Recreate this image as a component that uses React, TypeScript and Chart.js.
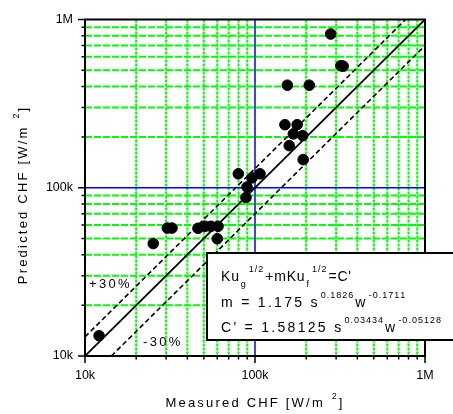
import React, { useEffect, useRef } from "react";
import { Chart, registerables } from "chart.js";

Chart.register(...registerables);

// ---- data ----
const measured = [
  12100, 25200, 30500, 32500, 46200, 50800, 55100, 60600, 60000,
  79800, 96000, 107000, 89700, 88500,
  278800, 320000, 330000, 155000, 208600, 150000, 177000, 168000, 190800, 159000, 192000,
];
const predicted = [
  13200, 46600, 57600, 57600, 57400, 59000, 59000, 59000, 49800,
  121000, 114500, 121000, 101000, 87400,
  820000, 531000, 528000, 407000, 407000, 237000, 237000, 209000, 204000, 178000, 147000,
];
const idealX = [1e4, 1e6];
const idealY = [1e4, 1e6];
const plusX = [1e4, 1e6 / 1.3];
const plusY = [1.3e4, 1e6];
const minusX = [1e4 / 0.7, 1e6];
const minusY = [1e4, 7e5];
const tickValues = [
  1e4, 2e4, 3e4, 4e4, 5e4, 6e4, 7e4, 8e4, 9e4,
  1e5, 2e5, 3e5, 4e5, 5e5, 6e5, 7e5, 8e5, 9e5, 1e6,
];
const majorValues = [1e4, 1e5, 1e6];
const majorLabels = ["10k", "100k", "1M"];

const FONT = '"Liberation Sans", Arial, sans-serif';

type Seg = { t: string; k: "n" | "sup" | "sub" };

function drawSpaced(ctx: CanvasRenderingContext2D, text: string, x: number, y: number, size: number, ls: number) {
  ctx.font = `${size}px ${FONT}`;
  for (const ch of text) {
    ctx.fillText(ch, x, y);
    x += ctx.measureText(ch).width + ls;
  }
  return x;
}
function measureSpaced(ctx: CanvasRenderingContext2D, text: string, size: number, ls: number) {
  ctx.font = `${size}px ${FONT}`;
  let w = 0;
  for (const ch of text) w += ctx.measureText(ch).width + ls;
  return w - ls;
}
function drawRich(ctx: CanvasRenderingContext2D, segs: Seg[], x: number, y: number, size: number, ls: number) {
  for (const s of segs) {
    if (s.k === "n") {
      x = drawSpaced(ctx, s.t, x, y, size, ls);
    } else {
      const dy = s.k === "sup" ? -size * 0.62 : size * 0.4;
      x = drawSpaced(ctx, s.t, x + 1, y + dy, 9, 1) + 1;
    }
  }
  return x;
}
function measureRich(ctx: CanvasRenderingContext2D, segs: Seg[], size: number, ls: number) {
  let w = 0;
  for (const s of segs) {
    if (s.k === "n") w += measureSpaced(ctx, s.t, size, ls) + ls;
    else w += measureSpaced(ctx, s.t, 9, 1) + 3;
  }
  return w;
}

const legendLines: Seg[][] = [
  [
    { t: "Ku", k: "n" }, { t: "g", k: "sub" }, { t: "1/2", k: "sup" },
    { t: "+mKu", k: "n" }, { t: "f", k: "sub" }, { t: "1/2", k: "sup" },
    { t: "=C'", k: "n" },
  ],
  [
    { t: "m = 1.175 s", k: "n" }, { t: "0.1826", k: "sup" },
    { t: "w", k: "n" }, { t: "-0.1711", k: "sup" },
  ],
  [
    { t: "C' = 1.58125 s", k: "n" }, { t: "0.03434", k: "sup" },
    { t: "w", k: "n" }, { t: "-0.05128", k: "sup" },
  ],
];
const legendSpacing = [0.8, 2.3, 2.3];

const decorPlugin = {
  id: "decor",
  beforeDatasetsDraw(chart: any) {
    const { ctx, chartArea: a, scales } = chart;
    const xs = scales.x, ys = scales.y;
    ctx.save();
    ctx.beginPath();
    ctx.rect(a.left, a.top, a.right - a.left, a.bottom - a.top);
    ctx.clip();
    for (const v of tickValues) {
      if (majorValues.includes(v)) continue;
      const px = xs.getPixelForValue(v);
      ctx.strokeStyle = "#00ff00";
      ctx.lineWidth = 2;
      ctx.setLineDash([3, 1]);
      ctx.beginPath();
      ctx.moveTo(px, a.top);
      ctx.lineTo(px, a.bottom);
      ctx.stroke();
      const py = ys.getPixelForValue(v);
      ctx.setLineDash([7, 2]);
      ctx.beginPath();
      ctx.moveTo(a.left, py);
      ctx.lineTo(a.right, py);
      ctx.stroke();
    }
    ctx.setLineDash([]);
    ctx.strokeStyle = "#0000ff";
    ctx.lineWidth = 1.5;
    const bx = xs.getPixelForValue(1e5);
    const by = ys.getPixelForValue(1e5);
    ctx.beginPath();
    ctx.moveTo(bx, a.top);
    ctx.lineTo(bx, a.bottom);
    ctx.moveTo(a.left, by);
    ctx.lineTo(a.right, by);
    ctx.stroke();
    ctx.restore();
  },
  afterDatasetsDraw(chart: any) {
    const { ctx, chartArea: a, scales } = chart;
    const xs = scales.x, ys = scales.y;
    ctx.save();
    ctx.setLineDash([]);
    ctx.strokeStyle = "#000";
    ctx.lineWidth = 2;
    ctx.strokeRect(a.left, a.top, a.right - a.left, a.bottom - a.top);
    ctx.lineWidth = 1.5;
    ctx.beginPath();
    for (const v of tickValues) {
      const len = majorValues.includes(v) ? 7 : 3.5;
      const px = xs.getPixelForValue(v);
      ctx.moveTo(px, a.bottom);
      ctx.lineTo(px, a.bottom + len);
      const py = ys.getPixelForValue(v);
      ctx.moveTo(a.left, py);
      ctx.lineTo(a.left - len, py);
    }
    ctx.stroke();

    ctx.fillStyle = "#000";
    ctx.textBaseline = "middle";
    ctx.textAlign = "left";
    drawSpaced(ctx, "+30%", 89, 284, 13, 2.3);
    drawSpaced(ctx, "-30%", 143, 342, 13, 2.3);

    ctx.fillStyle = "#fff";
    ctx.fillRect(207, 253, 260, 87);
    ctx.lineWidth = 2;
    ctx.strokeRect(207, 253, 260, 87);
    ctx.fillStyle = "#000";
    ctx.textBaseline = "alphabetic";
    const baselines = [281, 307, 332];
    legendLines.forEach((segs, i) => drawRich(ctx, segs, 221, baselines[i], 14, legendSpacing[i]));

    const xt: Seg[] = [{ t: "Measured CHF [W/m ", k: "n" }, { t: "2", k: "sup" }, { t: "]", k: "n" }];
    const wx = measureRich(ctx, xt, 13, 2.2);
    drawRich(ctx, xt, (a.left + a.right) / 2 - wx / 2, 407, 13, 2.2);
    const yt: Seg[] = [{ t: "Predicted CHF [W/m ", k: "n" }, { t: "2", k: "sup" }, { t: "]", k: "n" }];
    const wy = measureRich(ctx, yt, 13, 2.2);
    ctx.translate(27, 195);
    ctx.rotate(-Math.PI / 2);
    drawRich(ctx, yt, -wy / 2, 0, 13, 2.2);
    ctx.restore();
  },
};

export default function App() {
  const ref = useRef<HTMLCanvasElement | null>(null);
  useEffect(() => {
    if (!ref.current) return;
    const tickFont = { family: FONT, size: 12.5 };
    const labelCb = (v: any) => {
      const i = majorValues.indexOf(Number(v));
      return i >= 0 ? majorLabels[i] : "";
    };
    const setTicks = (s: any) => {
      s.ticks = tickValues.map((v) => ({ value: v }));
    };
    const chart = new Chart(ref.current, {
      type: "scatter",
      data: {
        datasets: [
          {
            data: measured.map((x, i) => ({ x, y: predicted[i] })),
            backgroundColor: "#000",
            borderColor: "#000",
            pointRadius: 5.3,
            pointHoverRadius: 5.3,
            showLine: false,
          },
          {
            data: idealX.map((x, i) => ({ x, y: idealY[i] })),
            borderColor: "#000",
            borderWidth: 1.8,
            pointRadius: 0,
            showLine: true,
          },
          {
            data: plusX.map((x, i) => ({ x, y: plusY[i] })),
            borderColor: "#000",
            borderWidth: 1.6,
            borderDash: [5, 3],
            pointRadius: 0,
            showLine: true,
          },
          {
            data: minusX.map((x, i) => ({ x, y: minusY[i] })),
            borderColor: "#000",
            borderWidth: 1.6,
            borderDash: [5, 3],
            pointRadius: 0,
            showLine: true,
          },
        ],
      },
      options: {
        animation: false,
        responsive: false,
        events: [],
        layout: { padding: { left: 0, top: 16, right: 28, bottom: 0 } },
        plugins: { legend: { display: false }, tooltip: { enabled: false } },
        scales: {
          x: {
            type: "logarithmic",
            position: "bottom",
            min: 1e4,
            max: 1e6,
            afterBuildTicks: setTicks,
            afterFit: (s: any) => { s.height = 58; },
            grid: { display: false, drawTicks: false },
            border: { display: false },
            ticks: { callback: labelCb, font: tickFont, color: "#000", padding: 12, autoSkip: false, maxRotation: 0 },
          },
          y: {
            type: "logarithmic",
            position: "left",
            min: 1e4,
            max: 1e6,
            afterBuildTicks: setTicks,
            afterFit: (s: any) => { s.width = 85; },
            grid: { display: false, drawTicks: false },
            border: { display: false },
            ticks: { callback: labelCb, font: tickFont, color: "#000", padding: 12, autoSkip: false },
          },
        },
      },
      plugins: [decorPlugin],
    } as any);
    return () => chart.destroy();
  }, []);
  return (
    <div style={{ position: "absolute", left: 0, top: 0, width: 453, height: 414, background: "#fff" }}>
      <canvas ref={ref} width={453} height={414} style={{ display: "block" }} />
    </div>
  );
}
